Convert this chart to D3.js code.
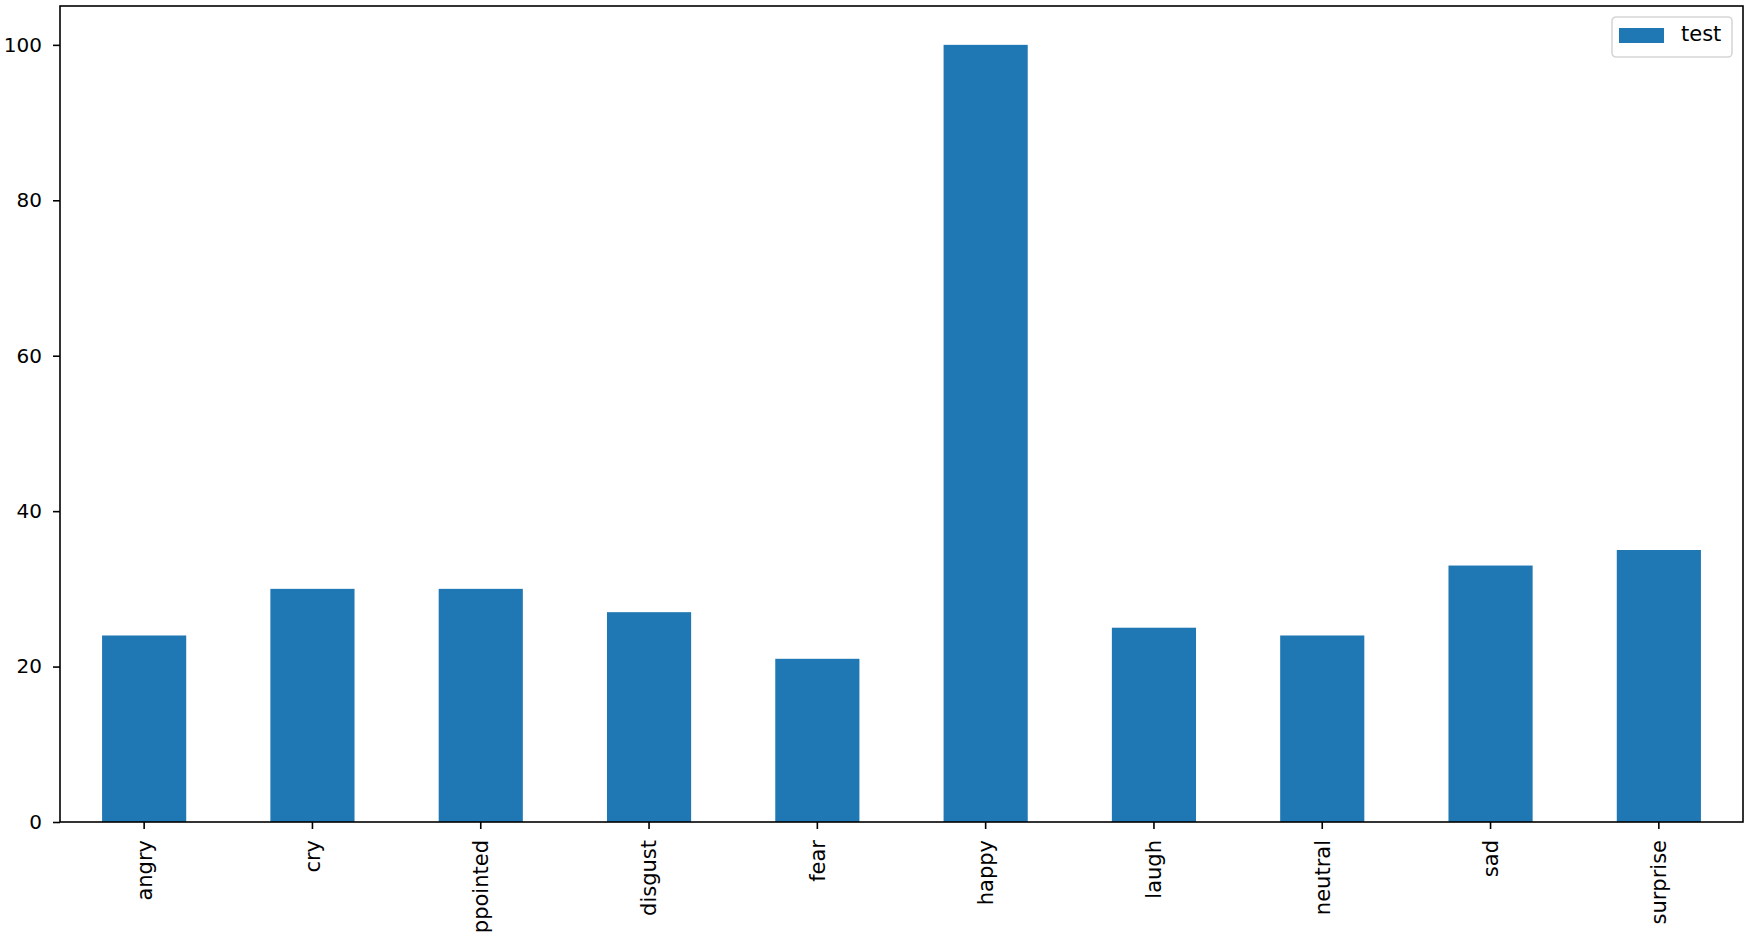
<!DOCTYPE html>
<html>
<head>
<meta charset="utf-8">
<script src="https://cdn.jsdelivr.net/npm/d3@7"></script>
<style>
  html, body { margin: 0; padding: 0; background: #fff; }
  svg { display: block; }
  text { font-family: "DejaVu Sans", sans-serif; fill: #000; }
</style>
</head>
<body>
<svg id="chart" width="1750" height="941"></svg>
<script>
const categories = ["angry", "cry", "ppointed", "disgust", "fear", "happy", "laugh", "neutral", "sad", "surprise"];
const testValues = [24, 30, 30, 27, 21, 100, 25, 24, 33, 35];
const yTicks = [0, 20, 40, 60, 80, 100];
const seriesName = "test";

const W = 1750, H = 941;
const margin = { left: 60, right: 7, top: 6, bottom: 119 };
const svg = d3.select("#chart");
const iw = W - margin.left - margin.right;
const ih = H - margin.top - margin.bottom;
const g = svg.append("g").attr("transform", `translate(${margin.left},${margin.top})`);

const x = d3.scaleBand().domain(categories).range([0, iw]).paddingInner(0.5).paddingOuter(0.25);
const y = d3.scaleLinear().domain([0, 105]).range([ih, 0]);

g.selectAll("rect.bar").data(categories).enter().append("rect")
  .attr("class", "bar")
  .attr("x", d => x(d))
  .attr("width", x.bandwidth())
  .attr("y", (d, i) => y(testValues[i]))
  .attr("height", (d, i) => y(0) - y(testValues[i]))
  .attr("fill", "#1f77b4");

// y axis
const yAxis = g.append("g").call(d3.axisLeft(y).tickValues(yTicks).tickSize(7).tickPadding(11).tickFormat(d3.format("d")));
yAxis.select(".domain").remove();
yAxis.selectAll(".tick line").attr("stroke", "#000").attr("stroke-width", 1.6);
yAxis.selectAll(".tick text").attr("font-size", 20).attr("font-family", "DejaVu Sans");

// x axis
const xAxis = g.append("g").attr("transform", `translate(0,${ih})`)
  .call(d3.axisBottom(x).tickSize(7).tickPadding(0));
xAxis.select(".domain").remove();
xAxis.selectAll(".tick line").attr("stroke", "#000").attr("stroke-width", 1.6);
xAxis.selectAll(".tick text")
  .attr("font-size", 21)
  .attr("font-family", "DejaVu Sans")
  .attr("transform", "translate(0,18) rotate(-90)")
  .attr("x", 0).attr("y", 0).attr("dy", "0.35em")
  .attr("text-anchor", "end");

// frame
g.append("rect").attr("x", 0).attr("y", 0).attr("width", iw).attr("height", ih)
  .attr("fill", "none").attr("stroke", "#000").attr("stroke-width", 1.6);

// legend
const lg = g.append("g").attr("transform", `translate(${1612 - margin.left},${17 - margin.top})`);
lg.append("rect").attr("x", 0).attr("y", 0).attr("width", 120).attr("height", 40)
  .attr("rx", 4).attr("fill", "#fff").attr("fill-opacity", 0.8)
  .attr("stroke", "#d6d6d6").attr("stroke-width", 1.6);
lg.append("rect").attr("x", 7).attr("y", 11).attr("width", 45).attr("height", 15).attr("fill", "#1f77b4");
lg.append("text").attr("x", 69).attr("y", 17).attr("dy", "0.35em").attr("font-size", 21).text(seriesName);
</script>
</body>
</html>
